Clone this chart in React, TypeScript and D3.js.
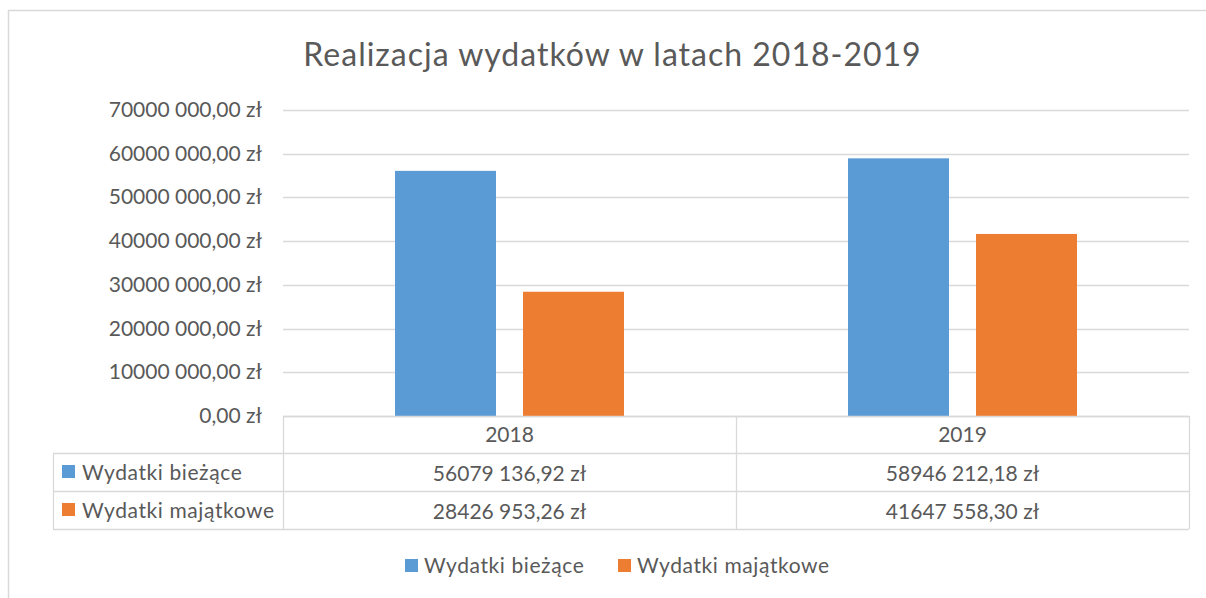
import React from "react";
import * as d3 from "d3";

const categories = ["2018", "2019"];
const seriesNames = ["Wydatki bieżące", "Wydatki majątkowe"];
const biezace = [56079136.92, 58946212.18];
const majatkowe = [28426953.26, 41647558.3];
const yTicks = [0, 10000000, 20000000, 30000000, 40000000, 50000000, 60000000, 70000000];
const colors = ["#5B9BD5", "#ED7D31"];

const W = 1206;
const H = 598;
const FONT = "Lato, 'Open Sans', sans-serif";
const TXT = "#595959";
const GRID = "#d9d9d9";
const FS = 21;

function fmtPLN(v: number): string {
  const fixed = v.toFixed(2);
  const [intPart, dec] = fixed.split(".");
  let s: string;
  if (intPart.length > 3) {
    s = intPart.slice(0, intPart.length - 3) + " " + intPart.slice(-3);
  } else s = intPart;
  return `${s},${dec} zł`;
}

export default function App() {
  const left = 283, right = 1189, top = 110, bottom = 416;
  const y = d3.scaleLinear().domain([0, 70000000]).range([bottom, top]);
  const x0 = d3.scaleBand().domain(categories).range([left, right]).paddingInner(0).paddingOuter(0);
  const barW = 101;
  const gap = 27;
  const series = [biezace, majatkowe];

  const tableLeft = 53;
  const rowYs = [bottom, bottom + 37, bottom + 75, bottom + 113];

  return (
    <div style={{ position: "absolute", left: 0, top: 0 }}>
      <svg width={W} height={H} style={{ display: "block", background: "#fff" }}>
        <rect x={8.5} y={10.5} width={W + 10} height={H + 10} fill="#fff" stroke={GRID} strokeWidth={1.5} />
        <text x={612.5} y={66} textAnchor="middle" fontFamily={FONT} fontSize={32} letterSpacing={1} fill={TXT}>
          Realizacja wydatków w latach 2018-2019
        </text>
        {yTicks.map((t) => (
          <g key={t}>
            <line x1={left} x2={right} y1={Math.round(y(t)) + 0.5} y2={Math.round(y(t)) + 0.5} stroke={GRID} strokeWidth={1.3} />
            <text x={262} y={y(t) + 7} textAnchor="end" fontFamily={FONT} fontSize={FS} fill={TXT}>
              {fmtPLN(t)}
            </text>
          </g>
        ))}
        {categories.map((c, ci) => {
          const cx = x0(c)! + x0.bandwidth() / 2;
          return series.map((s, si) => {
            const bx = si === 0 ? cx - gap / 2 - barW : cx + gap / 2;
            return (
              <rect key={c + si} x={bx} y={y(s[ci])} width={barW} height={bottom - y(s[ci])} fill={colors[si]} />
            );
          });
        })}
        <g stroke={GRID} strokeWidth={1.3} fill="none">
          <line x1={left} x2={right} y1={rowYs[0] + 0.5} y2={rowYs[0] + 0.5} />
          {rowYs.slice(1).map((ry) => (
            <line key={ry} x1={tableLeft} x2={right} y1={ry + 0.5} y2={ry + 0.5} />
          ))}
          <line x1={tableLeft + 0.5} x2={tableLeft + 0.5} y1={rowYs[1]} y2={rowYs[3]} />
          {[left, left + x0.bandwidth(), right].map((vx) => (
            <line key={vx} x1={vx + 0.5} x2={vx + 0.5} y1={rowYs[0]} y2={rowYs[3]} />
          ))}
        </g>
        {categories.map((c) => (
          <text key={c} x={x0(c)! + x0.bandwidth() / 2} y={rowYs[0] + 26} textAnchor="middle" fontFamily={FONT} fontSize={FS} fill={TXT}>
            {c}
          </text>
        ))}
        {series.map((s, si) => (
          <g key={si}>
            <rect x={62} y={rowYs[si + 1] + 12} width={13} height={13} fill={colors[si]} />
            <text x={82} y={rowYs[si + 1] + 27} fontFamily={FONT} fontSize={FS} letterSpacing={0.6} fill={TXT}>
              {seriesNames[si]}
            </text>
            {categories.map((c, ci) => (
              <text key={c} x={x0(c)! + x0.bandwidth() / 2} y={rowYs[si + 1] + 28} textAnchor="middle" fontFamily={FONT} fontSize={FS} fill={TXT}>
                {fmtPLN(s[ci])}
              </text>
            ))}
          </g>
        ))}
        {seriesNames.map((n, i) => {
          const lx = i === 0 ? 405 : 618;
          return (
            <g key={n}>
              <rect x={lx} y={559} width={13} height={13} fill={colors[i]} />
              <text x={lx + 19} y={573} fontFamily={FONT} fontSize={FS} letterSpacing={0.6} fill={TXT}>
                {n}
              </text>
            </g>
          );
        })}
      </svg>
    </div>
  );
}
